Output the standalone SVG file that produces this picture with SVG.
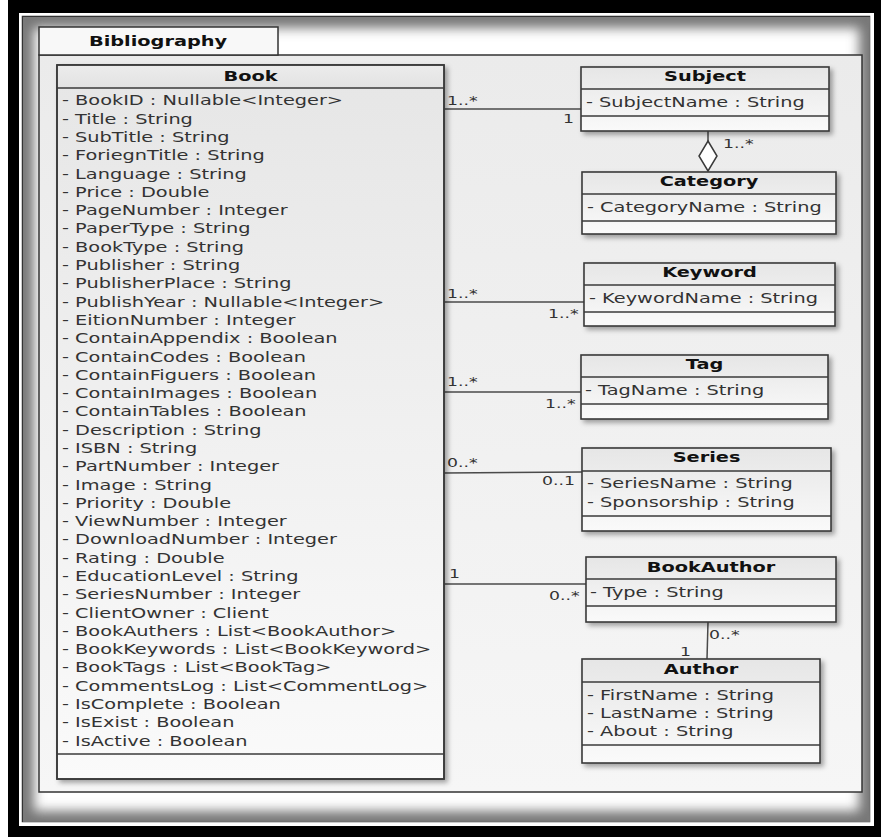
<svg xmlns="http://www.w3.org/2000/svg" width="881" height="837" viewBox="0 0 881 837">
  <style>
    .box { stroke: #3a3a3a; stroke-width: 1.6; }
    .sep { stroke: #3a3a3a; stroke-width: 1.4; }
    .ttl { font-family: "DejaVu Sans", Verdana, sans-serif; font-size: 14px; font-weight: bold; fill: #111; text-anchor: middle; }
    .att { font-family: "DejaVu Sans", Verdana, sans-serif; font-size: 14px; fill: #333; }
    .mul { font-family: "DejaVu Sans", Verdana, sans-serif; font-size: 12.5px; fill: #333; }
    .conn { stroke: #4a4a4a; stroke-width: 1.5; fill: none; }
  </style>
  <defs>
    <linearGradient id="bodyFill" x1="0" y1="0" x2="0" y2="1">
      <stop offset="0" stop-color="#e6e6e6"/>
      <stop offset="1" stop-color="#fafafa"/>
    </linearGradient>
    <linearGradient id="headFill" x1="0" y1="0" x2="0" y2="1">
      <stop offset="0" stop-color="#ececec"/>
      <stop offset="1" stop-color="#e2e2e2"/>
    </linearGradient>
    <linearGradient id="pkgFill" x1="0" y1="0" x2="0" y2="1">
      <stop offset="0" stop-color="#ebebeb"/>
      <stop offset="1" stop-color="#f6f6f6"/>
    </linearGradient>
    <filter id="shadow" x="-10%" y="-10%" width="130%" height="130%">
      <feDropShadow dx="3" dy="3" stdDeviation="2.5" flood-color="#000" flood-opacity="0.35"/>
    </filter>
    <filter id="soft" x="-10%" y="-10%" width="120%" height="120%">
      <feGaussianBlur stdDeviation="6"/>
    </filter>
    <clipPath id="inner">
      <rect x="23" y="17" width="847" height="805"/>
    </clipPath>
  </defs>

  <!-- page frame -->
  <rect x="0" y="0" width="881" height="837" fill="#ffffff"/>
  <rect x="8" y="0" width="873" height="837" fill="#000000"/>
  <rect x="19" y="13" width="855" height="813" fill="#ffffff"/>
  <rect x="22.5" y="16.5" width="847" height="805" fill="#ffffff" stroke="#333" stroke-width="1.5"/>
  <g clip-path="url(#inner)">
    <rect x="23" y="17" width="847" height="805" fill="none" stroke="#777" stroke-width="22" filter="url(#soft)"/>
  </g>

  <!-- package -->
  <g id="bibliography">
    <rect x="39" y="55" width="823" height="737" fill="url(#pkgFill)" stroke="#333" stroke-width="1.5"/>
    <rect x="39" y="27" width="239" height="28" fill="#f8f8f8" stroke="#333" stroke-width="1.5"/>
    <text class="ttl" transform="translate(158 46) scale(1.38 1)">Bibliography</text>
  </g>

  <!-- connectors -->
  <g id="connectors">
    <line class="conn" x1="444" y1="109" x2="581" y2="109"/>
    <line class="conn" x1="708" y1="131" x2="708" y2="141"/>
    <polygon points="708,141 717,156 708,171 699,156" fill="#ffffff" stroke="#3a3a3a" stroke-width="1.5"/>
    <line class="conn" x1="444" y1="302" x2="584" y2="302"/>
    <line class="conn" x1="444" y1="392" x2="581" y2="392"/>
    <line class="conn" x1="444" y1="473" x2="582" y2="472"/>
    <line class="conn" x1="444" y1="584" x2="586" y2="584"/>
    <line class="conn" x1="708" y1="622" x2="707" y2="659"/>

    <text class="mul" transform="translate(447 105) scale(1.38 1)">1..*</text>
    <text class="mul" transform="translate(563 123) scale(1.38 1)">1</text>
    <text class="mul" transform="translate(723 148) scale(1.38 1)">1..*</text>
    <text class="mul" transform="translate(447 298) scale(1.38 1)">1..*</text>
    <text class="mul" transform="translate(548 318) scale(1.38 1)">1..*</text>
    <text class="mul" transform="translate(447 386) scale(1.38 1)">1..*</text>
    <text class="mul" transform="translate(545 408) scale(1.38 1)">1..*</text>
    <text class="mul" transform="translate(447 467) scale(1.38 1)">0..*</text>
    <text class="mul" transform="translate(542 485) scale(1.38 1)">0..1</text>
    <text class="mul" transform="translate(449 578) scale(1.38 1)">1</text>
    <text class="mul" transform="translate(549 600) scale(1.38 1)">0..*</text>
    <text class="mul" transform="translate(709 639) scale(1.38 1)">0..*</text>
    <text class="mul" transform="translate(680 656) scale(1.38 1)">1</text>
  </g>

  <!-- Book -->
  <g id="book">
    <rect class="box" x="57" y="65" width="387" height="714" fill="url(#bodyFill)" filter="url(#shadow)"/>
    <rect x="57.8" y="65.8" width="385.4" height="22" fill="url(#headFill)"/>
    <line class="sep" x1="57" y1="88" x2="444" y2="88"/>
    <line class="sep" x1="57" y1="754" x2="444" y2="754"/>
    <rect class="box" x="57" y="65" width="387" height="714" fill="none"/>
    <text class="ttl" transform="translate(250.5 80.5) scale(1.38 1)">Book</text>
    <g class="att" transform="translate(62 0) scale(1.38 1)">
      <text class="att" y="105.5">- BookID : Nullable&lt;Integer&gt;</text>
      <text class="att" y="123.8">- Title : String</text>
      <text class="att" y="142.1">- SubTitle : String</text>
      <text class="att" y="160.4">- ForiegnTitle : String</text>
      <text class="att" y="178.7">- Language : String</text>
      <text class="att" y="197.0">- Price : Double</text>
      <text class="att" y="215.2">- PageNumber : Integer</text>
      <text class="att" y="233.5">- PaperType : String</text>
      <text class="att" y="251.8">- BookType : String</text>
      <text class="att" y="270.1">- Publisher : String</text>
      <text class="att" y="288.4">- PublisherPlace : String</text>
      <text class="att" y="306.7">- PublishYear : Nullable&lt;Integer&gt;</text>
      <text class="att" y="325.0">- EitionNumber : Integer</text>
      <text class="att" y="343.3">- ContainAppendix : Boolean</text>
      <text class="att" y="361.6">- ContainCodes : Boolean</text>
      <text class="att" y="379.9">- ContainFiguers : Boolean</text>
      <text class="att" y="398.1">- ContainImages : Boolean</text>
      <text class="att" y="416.4">- ContainTables : Boolean</text>
      <text class="att" y="434.7">- Description : String</text>
      <text class="att" y="453.0">- ISBN : String</text>
      <text class="att" y="471.3">- PartNumber : Integer</text>
      <text class="att" y="489.6">- Image : String</text>
      <text class="att" y="507.9">- Priority : Double</text>
      <text class="att" y="526.2">- ViewNumber : Integer</text>
      <text class="att" y="544.5">- DownloadNumber : Integer</text>
      <text class="att" y="562.8">- Rating : Double</text>
      <text class="att" y="581.0">- EducationLevel : String</text>
      <text class="att" y="599.3">- SeriesNumber : Integer</text>
      <text class="att" y="617.6">- ClientOwner : Client</text>
      <text class="att" y="635.9">- BookAuthers : List&lt;BookAuthor&gt;</text>
      <text class="att" y="654.2">- BookKeywords : List&lt;BookKeyword&gt;</text>
      <text class="att" y="672.5">- BookTags : List&lt;BookTag&gt;</text>
      <text class="att" y="690.8">- CommentsLog : List&lt;CommentLog&gt;</text>
      <text class="att" y="709.1">- IsComplete : Boolean</text>
      <text class="att" y="727.4">- IsExist : Boolean</text>
      <text class="att" y="745.7">- IsActive : Boolean</text>
    </g>
  </g>

  <!-- Subject -->
  <g id="subject">
    <rect class="box" x="581" y="67" width="248" height="64" fill="url(#bodyFill)" filter="url(#shadow)"/>
    <line class="sep" x1="581" y1="89" x2="829" y2="89"/>
    <line class="sep" x1="581" y1="116" x2="829" y2="116"/>
    <text class="ttl" transform="translate(705 81) scale(1.38 1)">Subject</text>
    <text class="att" transform="translate(586 107) scale(1.38 1)">- SubjectName : String</text>
  </g>

  <!-- Category -->
  <g id="category">
    <rect class="box" x="582" y="172" width="254" height="62" fill="url(#bodyFill)" filter="url(#shadow)"/>
    <line class="sep" x1="582" y1="194" x2="836" y2="194"/>
    <line class="sep" x1="582" y1="221" x2="836" y2="221"/>
    <text class="ttl" transform="translate(709 186) scale(1.38 1)">Category</text>
    <text class="att" transform="translate(587 212) scale(1.38 1)">- CategoryName : String</text>
  </g>

  <!-- Keyword -->
  <g id="keyword">
    <rect class="box" x="584" y="263" width="251" height="63" fill="url(#bodyFill)" filter="url(#shadow)"/>
    <line class="sep" x1="584" y1="285" x2="835" y2="285"/>
    <line class="sep" x1="584" y1="312" x2="835" y2="312"/>
    <text class="ttl" transform="translate(709.5 277) scale(1.38 1)">Keyword</text>
    <text class="att" transform="translate(589 303) scale(1.38 1)">- KeywordName : String</text>
  </g>

  <!-- Tag -->
  <g id="tag">
    <rect class="box" x="581" y="355" width="247" height="64" fill="url(#bodyFill)" filter="url(#shadow)"/>
    <line class="sep" x1="581" y1="377" x2="828" y2="377"/>
    <line class="sep" x1="581" y1="404" x2="828" y2="404"/>
    <text class="ttl" transform="translate(704.5 369) scale(1.38 1)">Tag</text>
    <text class="att" transform="translate(585 395) scale(1.38 1)">- TagName : String</text>
  </g>

  <!-- Series -->
  <g id="series">
    <rect class="box" x="582" y="448" width="249" height="83" fill="url(#bodyFill)" filter="url(#shadow)"/>
    <line class="sep" x1="582" y1="471" x2="831" y2="471"/>
    <line class="sep" x1="582" y1="516" x2="831" y2="516"/>
    <text class="ttl" transform="translate(706.5 462) scale(1.38 1)">Series</text>
    <text class="att" transform="translate(587 488) scale(1.38 1)">- SeriesName : String</text>
    <text class="att" transform="translate(587 507) scale(1.38 1)">- Sponsorship : String</text>
  </g>

  <!-- BookAuthor -->
  <g id="bookauthor">
    <rect class="box" x="586" y="557" width="250" height="65" fill="url(#bodyFill)" filter="url(#shadow)"/>
    <line class="sep" x1="586" y1="579" x2="836" y2="579"/>
    <line class="sep" x1="586" y1="606" x2="836" y2="606"/>
    <text class="ttl" transform="translate(711 572) scale(1.38 1)">BookAuthor</text>
    <text class="att" transform="translate(590 597) scale(1.38 1)">- Type : String</text>
  </g>

  <!-- Author -->
  <g id="author">
    <rect class="box" x="582" y="659" width="238" height="104" fill="url(#bodyFill)" filter="url(#shadow)"/>
    <line class="sep" x1="582" y1="682" x2="820" y2="682"/>
    <line class="sep" x1="582" y1="745" x2="820" y2="745"/>
    <text class="ttl" transform="translate(701 674) scale(1.38 1)">Author</text>
    <text class="att" transform="translate(587 700) scale(1.38 1)">- FirstName : String</text>
    <text class="att" transform="translate(587 718) scale(1.38 1)">- LastName : String</text>
    <text class="att" transform="translate(587 736) scale(1.38 1)">- About : String</text>
  </g>
</svg>
